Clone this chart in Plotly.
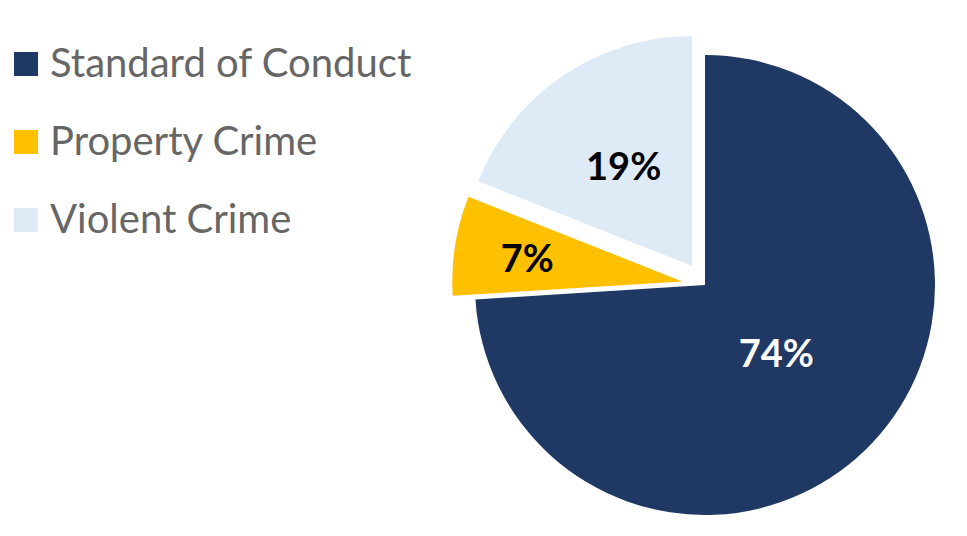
import plotly.graph_objects as go

categories = ["Standard of Conduct", "Property Crime", "Violent Crime"]
values = [74, 7, 19]
colors = ["#203864", "#FFC000", "#DEEBF7"]
text_colors = ["#FFFFFF", "#000000", "#000000"]
pulls = [0, 0.1, 0.1]

W, H = 967, 536
OFF = 8  # default page body margin of the html page
FONT = "Lato, 'Open Sans', sans-serif"


def px(x):
    return (x - OFF) / W


def py(y):
    return 1 - (y - OFF) / H


# pie centre and half-size of its domain box (pixels of the page)
CX, CY, HALF = 705, 285, 253
LABEL_F = 0.85  # labels sit a bit closer to the centre, as in the original

fig = go.Figure()
fig.add_trace(go.Pie(
    labels=categories,
    values=values,
    sort=False,
    direction="clockwise",
    rotation=0,
    pull=pulls,
    marker=dict(colors=colors, line=dict(width=0)),
    textinfo="none",
    domain=dict(x=[px(CX - HALF), px(CX + HALF)], y=[py(CY + HALF), py(CY - HALF)]),
    showlegend=False,
    hoverinfo="label+percent",
))

# transparent copy of the pie that only carries the percentage labels
h2 = HALF * LABEL_F
fig.add_trace(go.Pie(
    labels=categories,
    values=values,
    sort=False,
    direction="clockwise",
    rotation=0,
    pull=pulls,
    marker=dict(colors=["rgba(0,0,0,0)"] * len(values), line=dict(width=0)),
    texttemplate="%{percent:.0%}",
    textposition="inside",
    insidetextorientation="horizontal",
    textfont=dict(family=FONT, size=38, color=text_colors, weight="bold"),
    domain=dict(x=[px(CX - h2), px(CX + h2)], y=[py(CY + h2), py(CY - h2)]),
    showlegend=False,
    hoverinfo="skip",
))

# Legend drawn as shapes + annotations (large square swatches like the original)
sq = 24
x0 = 14
y_tops = [52, 130, 208]
for name, col, yt in zip(categories, colors, y_tops):
    fig.add_shape(type="rect", xref="paper", yref="paper",
                  x0=px(x0), x1=px(x0 + sq),
                  y0=py(yt + sq), y1=py(yt),
                  fillcolor=col, line=dict(width=0))
    fig.add_annotation(xref="paper", yref="paper",
                       x=px(48), y=py(yt + 9.5),
                       xanchor="left", yanchor="middle",
                       text=name, showarrow=False,
                       font=dict(family=FONT, size=40, color="#666666"))

fig.update_layout(
    width=W, height=H,
    margin=dict(l=0, r=0, t=0, b=0),
    paper_bgcolor="white",
    plot_bgcolor="white",
)

fig.write_html("out.html")
